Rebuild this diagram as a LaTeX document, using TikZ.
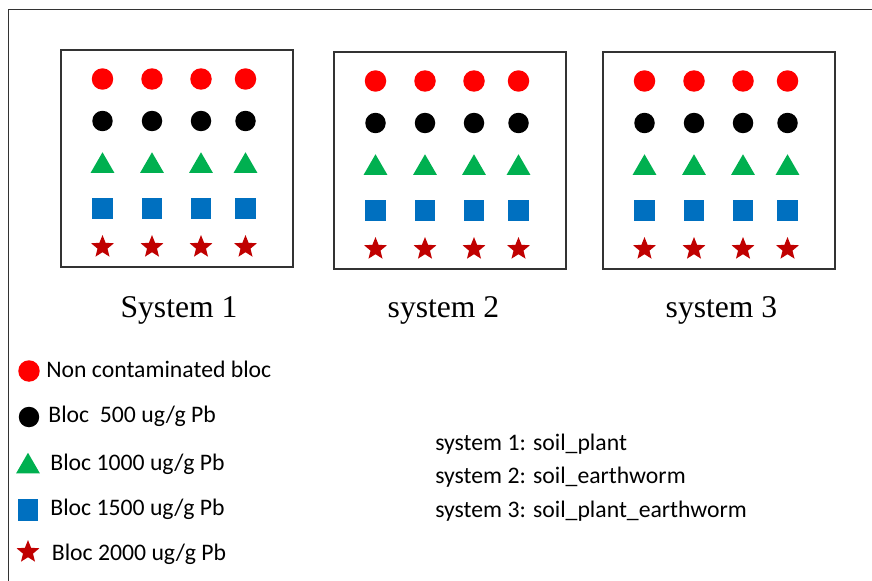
\documentclass[tikz,border=0pt]{standalone}
\usepackage{fontspec}
\setmainfont{Liberation Serif}
\newfontfamily\legendfont{Carlito}
\usetikzlibrary{shapes.geometric}

\definecolor{blocred}{RGB}{255,0,0}
\definecolor{blocgreen}{RGB}{0,176,80}
\definecolor{blocblue}{RGB}{0,112,192}
\definecolor{blocdarkred}{RGB}{192,0,0}

\begin{document}
\begin{tikzpicture}
    [x=0.02cm,y=-0.02cm,
     bloc/.style={inner sep=0pt,outer sep=0pt,draw=none},
     nonbloc/.style={bloc,circle,fill=blocred,minimum size=0.43cm},
     b500/.style={bloc,circle,fill=black,minimum size=0.41cm},
     b1000/.style={bloc,regular polygon,regular polygon sides=3,fill=blocgreen,minimum size=0.55cm},
     b1500/.style={bloc,rectangle,fill=blocblue,minimum width=0.41cm,minimum height=0.43cm},
     b2000/.style={bloc,star,star points=5,star point ratio=2.3,fill=blocdarkred,minimum size=0.48cm},
     sysbox/.style={draw=black!80,line width=0.9pt},
     syslabel/.style={anchor=base,font=\fontsize{18}{20}\selectfont},
     legtext/.style={anchor=base west,inner sep=0pt,font=\legendfont\fontsize{13.5}{16}\selectfont}]
    \useasboundingbox (0,0) rectangle (872,581);
    %outer frame
    \draw[black!80,line width=0.9pt] (8.5,581) -- (8.5,9.5) -- (872,9.5);

    %the three systems
    \foreach \bx/\by/\sys in {61/50/1,334/52/2,603/52/3}{
      \draw[sysbox] (\bx,\by) rectangle ++(232,217);
      \foreach \dx [count=\c] in {41.5,91,140,184.5}{
        \node[nonbloc] (s\sys non\c) at (\bx+\dx,\by+29) {};
        \node[b500] (s\sys five\c) at (\bx+\dx,\by+71) {};
        \node[b1000] (s\sys ten\c) at (\bx+\dx,\by+116) {};
        \node[b1500] (s\sys fifteen\c) at (\bx+\dx,\by+158.5) {};
        \node[b2000] (s\sys twenty\c) at (\bx+\dx,\by+197) {};
      }
    }
    \node[syslabel] (lab1) at (179,317) {System 1};
    \node[syslabel] (lab2) at (443.5,317) {system 2};
    \node[syslabel] (lab3) at (721.5,317) {system 3};

    %legend
    \node[nonbloc] (lnon) at (29,371) {};
    \node[b500] (lfive) at (29,417) {};
    \node[b1000] (lten) at (28,466.5) {};
    \node[b1500] (lfifteen) at (28,510) {};
    \node[b2000] (ltwenty) at (28,552) {};
    \node[legtext] (tnon) at (46,377) {Non contaminated bloc};
    \node[legtext] (tfive) at (48,422.7) {Bloc\ \ 500 ug/g Pb};
    \node[legtext] (tten) at (50,470) {Bloc 1000 ug/g Pb};
    \node[legtext] (tfifteen) at (50,515.7) {Bloc 1500 ug/g Pb};
    \node[legtext] (ttwenty) at (51.5,560) {Bloc 2000 ug/g Pb};

    \node[legtext] (d1) at (435,450) {system 1: soil\_plant};
    \node[legtext] (d2) at (435,483.3) {system 2: soil\_earthworm};
    \node[legtext] (d3) at (435,517.3) {system 3: soil\_plant\_earthworm};

\end{tikzpicture}
\end{document}
